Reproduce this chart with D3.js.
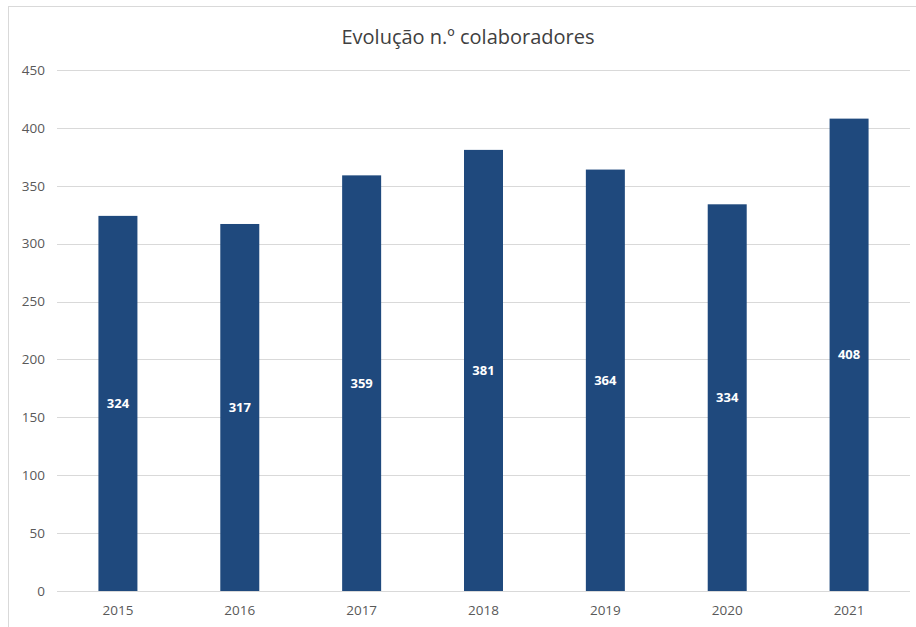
<!DOCTYPE html>
<html lang="pt">
<head>
<meta charset="UTF-8">
<title>Evolução n.º colaboradores</title>
<script src="https://d3js.org/d3.v7.min.js"></script>
<style>
  body { margin: 0; background: #fff; }
  svg { display: block; font-family: "Open Sans", "Liberation Sans", sans-serif; }
</style>
</head>
<body>
<div id="chart"></div>
<script>
var years = ["2015", "2016", "2017", "2018", "2019", "2020", "2021"];
var colaboradores = [324, 317, 359, 381, 364, 334, 408];
var yTicks = [0, 50, 100, 150, 200, 250, 300, 350, 400, 450];

var W = 916, H = 627;
var margin = {top: 70, right: 6, bottom: 36, left: 57},
    width = W - margin.left - margin.right,
    height = H - margin.top - margin.bottom;

var svg = d3.select("#chart").append("svg")
    .attr("width", W).attr("height", H);

// chart area border (partly cropped in the original)
svg.append("rect")
    .attr("x", 8.5).attr("y", 6.5)
    .attr("width", W + 10).attr("height", H + 10)
    .attr("fill", "none").attr("stroke", "#d9d9d9");

svg.append("text")
    .attr("x", 468).attr("y", 44)
    .attr("text-anchor", "middle")
    .attr("font-size", 20)
    .attr("fill", "#404040")
    .text("Evolução n.º colaboradores");

var g = svg.append("g")
    .attr("transform", "translate(" + margin.left + "," + margin.top + ")");

var x = d3.scaleBand().domain(years).range([0, width]).paddingInner(0.68).paddingOuter(0.34);
var y = d3.scaleLinear().domain([0, 450]).range([height, 0]);

// gridlines
g.append("g")
    .selectAll("line")
    .data(yTicks)
    .enter().append("line")
    .attr("x1", 0).attr("x2", width)
    .attr("y1", function(d) { return Math.round(y(d)) + 0.5; })
    .attr("y2", function(d) { return Math.round(y(d)) + 0.5; })
    .attr("stroke", "#d9d9d9").attr("stroke-width", 1);

// y axis labels
var yAxis = g.append("g")
    .call(d3.axisLeft(y).tickValues(yTicks).tickSize(0).tickPadding(12));
yAxis.select(".domain").remove();
yAxis.selectAll("text").attr("font-size", 13.5).attr("fill", "#595959")
    .attr("font-family", "Open Sans, Liberation Sans, sans-serif");

// x axis labels
var xAxis = g.append("g")
    .attr("transform", "translate(0," + height + ")")
    .call(d3.axisBottom(x).tickSize(0).tickPadding(14));
xAxis.select(".domain").remove();
xAxis.selectAll("text").attr("font-size", 13.5).attr("fill", "#595959")
    .attr("font-family", "Open Sans, Liberation Sans, sans-serif");

var data = years.map(function(yr, i) { return {year: yr, value: colaboradores[i]}; });

// bars
g.append("g").selectAll("rect")
    .data(data)
    .enter().append("rect")
    .attr("x", function(d) { return x(d.year); })
    .attr("y", function(d) { return y(d.value); })
    .attr("width", x.bandwidth())
    .attr("height", function(d) { return height - y(d.value); })
    .attr("fill", "#1f497d");

// value labels
g.append("g").selectAll("text")
    .data(data)
    .enter().append("text")
    .attr("x", function(d) { return x(d.year) + x.bandwidth() / 2; })
    .attr("y", function(d) { return (y(d.value) + height) / 2; })
    .attr("dy", "0.35em")
    .attr("text-anchor", "middle")
    .attr("font-size", 13)
    .attr("font-weight", "bold")
    .attr("fill", "#fff")
    .text(function(d) { return d.value; });
</script>
</body>
</html>
